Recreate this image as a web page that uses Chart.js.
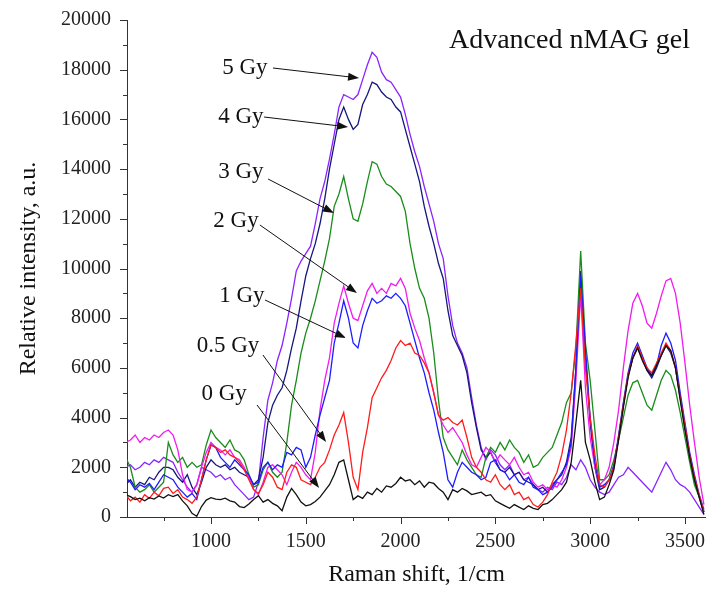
<!DOCTYPE html>
<html>
<head>
<meta charset="utf-8">
<script src="https://cdn.jsdelivr.net/npm/chart.js@4.4.1/dist/chart.umd.min.js"></script>
<style>
  body { margin: 0; background: #fff; }
  canvas { display: block; }
</style>
</head>
<body>
<canvas id="ramanChart" width="706" height="596"></canvas>
<script>
// Raman shift grid (1/cm)
const shifts = [
  550, 575, 600, 625, 650, 675, 700, 725, 750, 775,
  800, 825, 850, 875, 900, 925, 950, 975, 1000, 1025,
  1050, 1075, 1100, 1125, 1150, 1175, 1200, 1225, 1250, 1275,
  1300, 1325, 1350, 1375, 1400, 1425, 1450, 1475, 1500, 1525,
  1550, 1575, 1600, 1625, 1650, 1675, 1700, 1725, 1750, 1775,
  1800, 1825, 1850, 1875, 1900, 1925, 1950, 1975, 2000, 2025,
  2050, 2075, 2100, 2125, 2150, 2175, 2200, 2225, 2250, 2275,
  2300, 2325, 2350, 2375, 2400, 2425, 2450, 2475, 2500, 2525,
  2550, 2575, 2600, 2625, 2650, 2675, 2700, 2725, 2750, 2775,
  2800, 2825, 2850, 2875, 2900, 2925, 2950, 2975, 3000, 3025,
  3050, 3075, 3100, 3125, 3150, 3175, 3200, 3225, 3250, 3275,
  3300, 3325, 3350, 3375, 3400, 3425, 3450, 3475, 3500, 3525,
  3550, 3575, 3600
];

// axis ticks
const xTicks = [1000, 1500, 2000, 2500, 3000, 3500];
const yTicks = [0, 2000, 4000, 6000, 8000, 10000, 12000, 14000, 16000, 18000, 20000];

// Relative intensity, a.u. - one array per dose
const gy0 = [
  900, 820, 700, 760, 650, 780, 720, 850, 760, 900,
  820, 900, 650, 450, 150, 30, 420, 680, 780, 720,
  700, 760, 650, 600, 420, 380, 520, 700, 860, 600,
  700, 550, 450, 250, 800, 1150, 900, 600, 450, 500,
  620, 800, 1050, 1300, 1700, 2200, 2300, 1500, 700, 850,
  750, 1000, 900, 1150, 1000, 1250, 1200, 1350, 1600, 1450,
  1500, 1300, 1450, 1200, 1400, 1350, 1150, 1000, 700, 1100,
  1000, 1150, 1050, 900, 950, 1000, 850, 900, 650, 550,
  450, 350, 500, 400, 300, 450, 350, 300, 500, 550,
  700, 900, 1100, 1400, 2200, 3800, 5500, 3000, 2300, 1400,
  700, 800, 1300, 1900, 3100, 4400, 5600, 6400, 6800, 6300,
  5900, 5700, 6100, 6500, 6900, 6700, 6000, 4700, 3500, 2400,
  1500, 800, 100
];
const gy05 = [
  900, 650, 800, 600, 900, 750, 1000, 850, 1150, 1200,
  950, 1100, 800, 700, 550, 800, 1500, 2300, 2900, 2800,
  2600, 2700, 2500, 2400, 2200, 1900, 1500, 1100, 950, 1300,
  1800, 1600, 1200, 1100, 1800, 2100, 2000, 1500, 1400, 1300,
  1600, 2000, 2200, 2700, 3300, 3700, 4200, 3000, 1600, 1100,
  2600, 3600, 4800, 5200, 5600, 5900, 6300, 6800, 7100, 6900,
  7000, 6600, 6500, 6200, 5800, 5000, 4100, 3900, 4000, 3800,
  3700, 3900, 3200, 2400, 2000, 1800, 1500, 1400, 1700, 1300,
  1100, 1300, 900, 1000, 700, 800, 500, 400, 600, 900,
  1400, 1800, 2500, 3500, 5000, 7000, 9200, 6000, 4000, 2500,
  1300, 1200, 1500, 2000, 3200, 4500, 5700, 6400, 6900, 6400,
  6000, 5800, 6200, 6600, 7000, 6700, 6000, 4800, 3700, 2500,
  1600, 900, 200
];
const gy1 = [
  1600, 1400, 1100, 1300, 1200, 1350, 1100, 1400, 1700, 1600,
  1500, 1200, 1000, 800, 950, 700, 1500, 2300, 2900, 2800,
  2400, 2200, 2000, 2300, 2100, 1900, 1700, 1300, 1400, 2000,
  2200, 1900, 2100, 2000, 2600, 2500, 2800, 2700, 2000, 2400,
  3300, 4100, 4800, 5500, 7000, 7800, 8700, 8000, 7000, 6800,
  7700, 8300, 8800, 8600, 8700, 8900, 8800, 9000, 8800, 8500,
  7800, 7100, 6400, 5800, 5000, 4300, 3400, 2600, 1500, 1200,
  1800, 2200, 2000, 1800, 1700, 1500, 1600, 2200, 2300, 1900,
  1800, 1500, 1700, 1400, 1300, 1600, 1200, 1100, 900, 1000,
  1200, 1500, 1800, 2100, 3000, 6000, 9700, 6800, 4000, 2200,
  1200, 1300, 1500, 2100, 3300, 4600, 5800, 6600, 7000, 6500,
  6000, 5700, 6100, 6900, 7400, 7000, 6300, 5000, 3800, 2600,
  1700, 900, 300
];
const gy2 = [
  3000, 3100, 3300, 3000, 3200, 3100, 3300, 3200, 3400, 3500,
  3300, 2700, 1700, 1100, 1000, 1300, 2000, 2600, 3000, 2800,
  2700, 2500, 2700, 2400, 2300, 2000, 1600, 1100, 900, 1400,
  2000, 2100, 1900, 1700, 1300, 1800, 2200, 2000, 1700, 1500,
  2600, 4300, 5500, 6400, 7800, 8600, 9300, 8600, 8000, 7900,
  8500, 9100, 9400, 9000, 9200, 9000, 9400, 9300, 9600, 9200,
  8200, 7600, 7100, 6400, 5800, 5000, 4100, 3700, 3400, 3600,
  3300, 3000, 2500, 2100, 2000, 2400, 2800, 2600, 2200, 2500,
  2300, 2100, 2400, 2000, 1700, 1800, 1400, 1200, 1300, 1100,
  1300, 1200, 1500, 2000, 2800, 5500, 9000, 5200, 3200, 2000,
  1300, 1500, 2000, 3000, 4300, 6000, 7500, 8600, 9000, 8500,
  7800, 7600, 8200, 8900, 9500, 9600, 9000, 7800, 6200, 4500,
  3000, 1600, 500
];
const gy3 = [
  2400, 2000, 1200, 1000, 1100, 1300, 1000, 1200, 1400, 3000,
  2500, 2200, 2400, 2000, 2200, 2000, 2100, 2900, 3500, 3200,
  3000, 2800, 3100, 2700, 2600, 2300, 1700, 1200, 1300, 1900,
  2200, 1800, 1600, 1800, 3000, 4500, 5500, 6600, 7400, 8000,
  8700, 9500, 10300, 11200, 12500, 13000, 13700, 12800, 12000, 11900,
  12600, 13500, 14300, 14200, 13700, 13400, 13300, 13100, 12900, 12300,
  11000, 10000, 9200, 8800, 8000, 6600, 4700, 3200, 2700, 2400,
  2100, 2700, 2300, 2000, 1700, 1600, 2400, 2800, 2600, 3000,
  2700, 3100, 2800, 2600, 2200, 2500, 2000, 2100, 2400, 2600,
  2800, 3300, 3800, 4600, 5000, 6800, 10700, 7000, 5500, 3500,
  1500, 1500, 1700, 2300, 3100, 4000, 4900, 5400, 5500, 5000,
  4500, 4300, 4900, 5500, 5900, 5700, 5100, 4200, 3200, 2200,
  1300, 800, 200
];
const gy4 = [
  1300, 1500, 1200, 1400, 1300, 1600, 1500, 1800, 2000, 2000,
  1900, 1600, 1400, 1700, 1200, 900, 1400, 2000, 2300, 2100,
  2000, 2100, 1900, 2000, 1800, 1700, 1600, 1300, 1500, 2400,
  3800, 4500, 4900, 5200, 5900, 6800, 7600, 8700, 9700, 10400,
  11000, 11800, 12800, 14000, 15000, 16000, 16500, 16000, 15600, 15800,
  16600, 17000, 17500, 17400, 17100, 16900, 16800, 16500, 16300, 15600,
  14900, 14200, 13500, 12500, 11700, 11000, 10200, 9600, 8300, 7300,
  6900, 6500, 5800, 4600, 3600, 2700, 2400, 2600, 2200, 1900,
  1800, 2000, 1700, 1800, 1500, 1400, 1300, 1100, 1200, 1000,
  1300, 1500, 1700, 2200, 3200, 6000, 9900, 6500, 3800, 2000,
  1100, 1200, 1500, 2000, 3200, 4500, 5700, 6400, 6800, 6400,
  5900, 5600, 6000, 6500, 6900, 6600, 6000, 4800, 3600, 2500,
  1500, 800, 200
];
const gy5 = [
  2000, 2100, 1900, 2000, 2200, 2100, 2300, 2200, 2400, 2300,
  2200, 1800, 1500, 1200, 1000, 1300, 2000, 1900, 1800, 1600,
  1700, 1500, 1600, 1300, 1100, 900, 700, 800, 1400, 3200,
  4700, 5400, 6300, 6900, 7800, 8800, 9900, 10300, 10600, 10900,
  11800, 12800, 13500, 14400, 15400, 16500, 17000, 16900, 16800, 17000,
  17600, 18200, 18700, 18500, 17900, 17600, 17500, 17200, 16900, 16200,
  15400, 14700, 14100, 13300, 12600, 11900, 11000, 10400, 8900, 7700,
  7000, 6600, 6000, 4800, 3700, 2800, 2300, 2700, 2500, 2100,
  1900, 2100, 1700, 1800, 1500, 1600, 1300, 1100, 1000, 1200,
  1100, 1400, 1300, 1600, 2100, 1900, 2300, 2000, 1500, 1200,
  1000, 900, 1000, 1300, 1600, 1700, 2000, 1800, 1600, 1400,
  1200, 1000, 1400, 1800, 2200, 1900, 1500, 1300, 1200, 1000,
  700, 400, 100
];

const doseLabels = ['0 Gy', '0.5 Gy', '1 Gy', '2 Gy', '3 Gy', '4 Gy', '5 Gy'];
const doseSeries = [gy0, gy05, gy1, gy2, gy3, gy4, gy5];
const doseColors = ['#111111', '#ff1c1c', '#1c1cff', '#f01cf0', '#1a8c1a', '#16167e', '#8a24ff'];

// Arrow annotations: label position and arrow start/end, in data units
const arrowNotes = [
  { text: '5 Gy',   label: [1179, 18068], from: [1327, 18068], to: [1781, 17665] },
  { text: '4 Gy',   label: [1158, 16096], from: [1280, 16096], to: [1723, 15694] },
  { text: '3 Gy',   label: [1158, 13883], from: [1301, 13601], to: [1649, 12233] },
  { text: '2 Gy',   label: [1132, 11911], from: [1258, 11750], to: [1770, 9014] },
  { text: '1 Gy',   label: [1163, 8893],  from: [1285, 8732],  to: [1712, 7203] },
  { text: '0.5 Gy', label: [1090, 6881],  from: [1274, 6519],  to: [1607, 3018] },
  { text: '0 Gy',   label: [1069, 4950],  from: [1243, 4507],  to: [1570, 1167] }
];

const serif = "'Liberation Serif', 'Times New Roman', serif";

// major + minor tick marks drawn outside the axes
const tickMarks = {
  id: 'tickMarks',
  afterDraw(chart) {
    const { ctx, chartArea, scales: { x, y } } = chart;
    ctx.save();
    ctx.strokeStyle = '#333';
    ctx.lineWidth = 1;
    ctx.beginPath();
    x.ticks.forEach(t => {
      // major tick, plus a minor one halfway on each side
      [t.value - 250, t.value, t.value + 250].forEach((v, k) => {
        if (v < x.min || v > x.max) return;
        const px = Math.round(x.getPixelForValue(v)) + 0.5;
        ctx.moveTo(px, chartArea.bottom);
        ctx.lineTo(px, chartArea.bottom + (k === 1 ? 7 : 4));
      });
    });
    y.ticks.forEach(t => {
      [t.value, t.value + 1000].forEach((v, k) => {
        if (v > y.max) return;
        const py = Math.round(y.getPixelForValue(v)) + 0.5;
        ctx.moveTo(chartArea.left, py);
        ctx.lineTo(chartArea.left - (k === 0 ? 7 : 4), py);
      });
    });
    ctx.stroke();
    ctx.restore();
  }
};

// dose labels with arrows + panel title
const notes = {
  id: 'notes',
  afterDatasetsDraw(chart) {
    const { ctx, chartArea, scales: { x, y } } = chart;
    ctx.save();
    ctx.fillStyle = '#111';
    ctx.strokeStyle = '#111';
    ctx.lineWidth = 1;
    ctx.font = '23px ' + serif;
    ctx.textAlign = 'center';
    ctx.textBaseline = 'middle';
    arrowNotes.forEach(n => {
      ctx.fillText(n.text, x.getPixelForValue(n.label[0]), y.getPixelForValue(n.label[1]));
      const x0 = x.getPixelForValue(n.from[0]), y0 = y.getPixelForValue(n.from[1]);
      const x1 = x.getPixelForValue(n.to[0]), y1 = y.getPixelForValue(n.to[1]);
      const a = Math.atan2(y1 - y0, x1 - x0);
      ctx.beginPath();
      ctx.moveTo(x0, y0);
      ctx.lineTo(x1 - 8 * Math.cos(a), y1 - 8 * Math.sin(a));
      ctx.stroke();
      ctx.beginPath();
      ctx.moveTo(x1, y1);
      ctx.lineTo(x1 - 11 * Math.cos(a) + 4 * Math.sin(a), y1 - 11 * Math.sin(a) - 4 * Math.cos(a));
      ctx.lineTo(x1 - 11 * Math.cos(a) - 4 * Math.sin(a), y1 - 11 * Math.sin(a) + 4 * Math.cos(a));
      ctx.closePath();
      ctx.fill();
    });
    ctx.font = '28px ' + serif;
    ctx.textAlign = 'right';
    ctx.fillText('Advanced nMAG gel', chartArea.right - 16, chartArea.top + 21);
    ctx.restore();
  }
};

const ctx = document.getElementById('ramanChart').getContext('2d');
new Chart(ctx, {
  type: 'line',
  data: {
    datasets: doseSeries.map((vals, i) => ({
      label: doseLabels[i],
      data: shifts.map((s, j) => ({ x: s, y: vals[j] })),
      borderColor: doseColors[i],
      borderWidth: 1.3,
      pointRadius: 0,
      tension: 0,
      fill: false
    }))
  },
  options: {
    responsive: false,
    animation: false,
    layout: { padding: { top: 20, right: 0, left: 0, bottom: 0 } },
    plugins: { legend: { display: false }, tooltip: { enabled: false } },
    scales: {
      x: {
        type: 'linear',
        min: 557,
        max: 3611,
        afterBuildTicks: s => { s.ticks = xTicks.map(v => ({ value: v })); },
        afterFit: s => { s.height = 79; s.paddingRight = 0; s.paddingLeft = 0; },
        grid: { display: false },
        border: { display: true, color: '#333', width: 1 },
        ticks: {
          autoSkip: false,
          maxRotation: 0,
          padding: 5,
          color: '#222',
          font: { family: serif, size: 20 },
          callback: v => String(v)
        },
        title: {
          display: true,
          text: 'Raman shift, 1/cm',
          color: '#111',
          font: { family: serif, size: 24 },
          padding: { top: 0, bottom: 7 }
        }
      },
      y: {
        min: 0,
        max: 20000,
        afterBuildTicks: s => { s.ticks = yTicks.map(v => ({ value: v })); },
        afterFit: s => { s.width = 127; },
        grid: { display: false },
        border: { display: true, color: '#333', width: 1 },
        ticks: {
          autoSkip: false,
          padding: 8,
          color: '#222',
          font: { family: serif, size: 20 },
          callback: v => String(v)
        },
        title: {
          display: true,
          text: 'Relative intensity, a.u.',
          color: '#111',
          font: { family: serif, size: 24 },
          padding: { top: 14, bottom: 0 }
        }
      }
    }
  },
  plugins: [tickMarks, notes]
});
</script>
</body>
</html>
